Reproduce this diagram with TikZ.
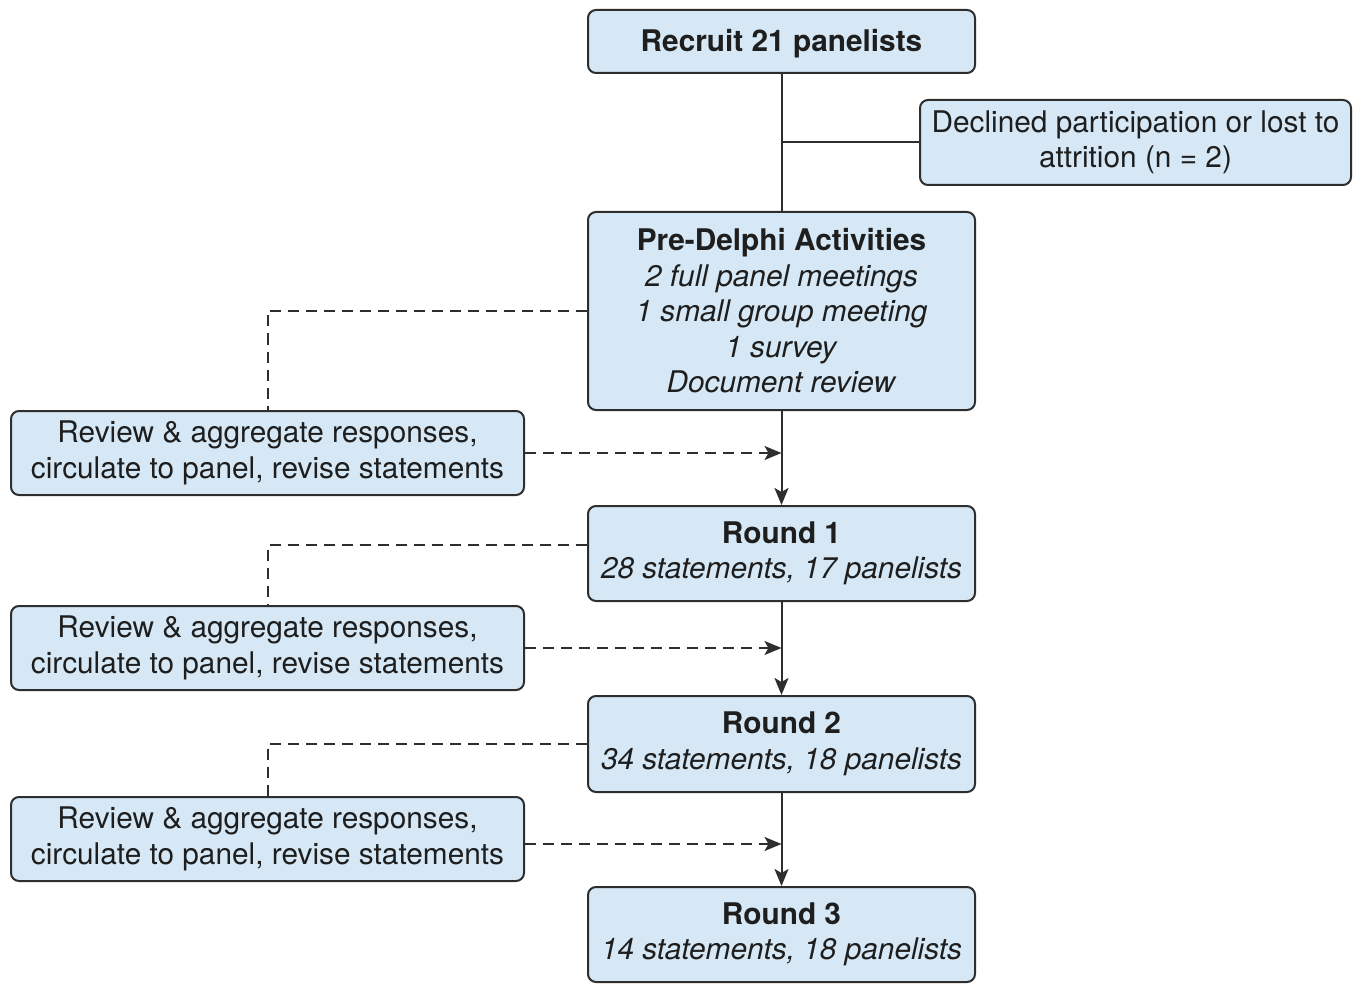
\documentclass[tikz,border=0pt]{standalone}
\usepackage{fontspec}
\setmainfont{TeX Gyre Heros}
\usetikzlibrary{arrows.meta}
\definecolor{boxfill}{HTML}{D6E8F5}
\definecolor{linec}{HTML}{2E2E2E}
\definecolor{textc}{HTML}{1E1E1E}
\begin{document}
\begin{tikzpicture}[x=1pt,y=-1pt,
  box/.style={draw=linec, fill=boxfill, line width=2pt, rounded corners=8pt, align=center,
    inner sep=0pt, text=textc, font=\fontsize{29.8}{35.5}\selectfont,
    execute at begin node={\rule{0pt}{26.5pt}}},
  conn/.style={draw=linec, line width=2pt},
  dashconn/.style={conn, dash pattern=on 11pt off 7pt},
  tip/.style={-{Stealth[length=17pt,width=14pt,inset=4pt]}}]
\useasboundingbox (0,0) rectangle (1363,984);

\node[box, minimum width=387pt, minimum height=63pt] (recruit) at (781.5,41.5) {\textbf{Recruit 21 panelists}};
\node[box, minimum width=431pt, minimum height=85pt] (decl) at (1135.5,142.5) {Declined participation or lost to\\attrition (n = 2)};
\node[box, minimum width=387pt, minimum height=198pt] (pre) at (781.5,311) {\textbf{Pre-Delphi Activities}\\\textit{2 full panel meetings}\\\textit{1 small group meeting}\\\textit{1 survey}\\\textit{Document review}};
\node[box, minimum width=513pt, minimum height=84pt] (rev1) at (267.5,453) {Review \& aggregate responses,\\circulate to panel, revise statements};
\node[box, minimum width=387pt, minimum height=95pt] (r1) at (781.5,553.5) {\textbf{Round 1}\\\textit{28 statements, 17 panelists}};
\node[box, minimum width=513pt, minimum height=84pt] (rev2) at (267.5,648) {Review \& aggregate responses,\\circulate to panel, revise statements};
\node[box, minimum width=387pt, minimum height=96pt] (r2) at (781.5,744) {\textbf{Round 2}\\\textit{34 statements, 18 panelists}};
\node[box, minimum width=513pt, minimum height=84pt] (rev3) at (267.5,839) {Review \& aggregate responses,\\circulate to panel, revise statements};
\node[box, minimum width=387pt, minimum height=95pt] (r3) at (781.5,934.5) {\textbf{Round 3}\\\textit{14 statements, 18 panelists}};

\coordinate (j) at (recruit.south |- decl.west);
\draw[conn] (recruit.south) -- (pre.north);
\draw[conn] (j) -- (decl.west);
\draw[conn,tip] (pre.south) -- (r1.north);
\draw[conn,tip] (r1.south) -- (r2.north);
\draw[conn,tip] (r2.south) -- (r3.north);

\coordinate (d1) at (pre.west);
\coordinate (d2) at (r1.west |- 0,545);
\coordinate (d3) at (r2.west);
\draw[dashconn] (d1) -| (rev1.north);
\draw[dashconn] (d2) -| (rev2.north);
\draw[dashconn] (d3) -| (rev3.north);

\coordinate (a1) at (rev1.east);
\coordinate (a2) at (rev2.east);
\coordinate (a3) at (rev3.east |- 0,844);
\draw[dashconn,tip] (a1) -- (a1 -| pre.south);
\draw[dashconn,tip] (a2) -- (a2 -| pre.south);
\draw[dashconn,tip] (a3) -- (a3 -| pre.south);
\end{tikzpicture}
\end{document}
